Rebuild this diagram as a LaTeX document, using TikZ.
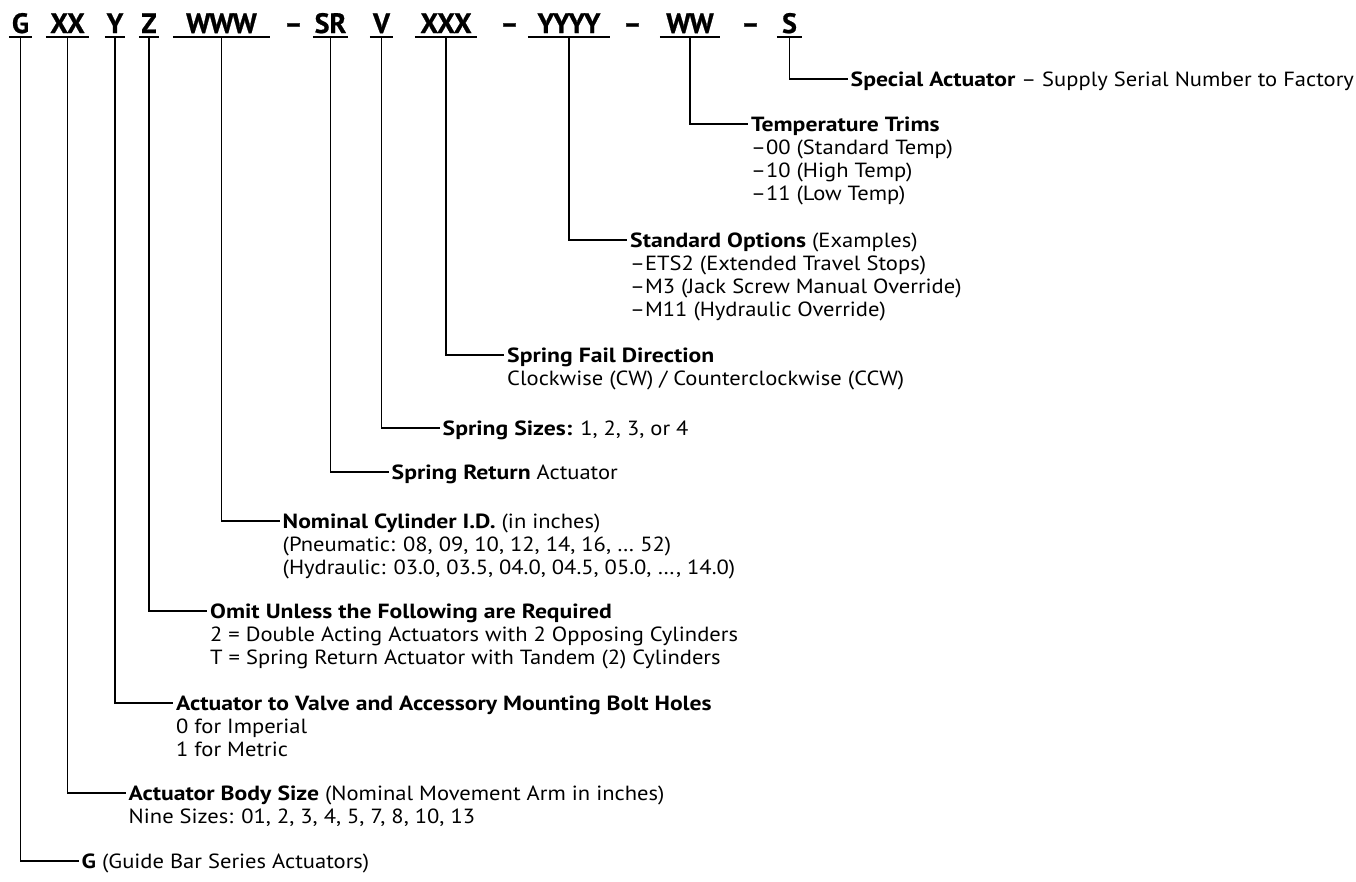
\documentclass[tikz,border=0pt]{standalone}
\usepackage{fontspec}
\setmainfont{PT Sans}[FakeStretch=1.10, BoldFeatures={FakeStretch=1.155}]
\newfontfamily\hdfont{PT Sans}[BoldFeatures={FakeBold=0.8}]
\newcommand\lns[1]{\begin{tabular}[t]{@{}l@{}}#1\end{tabular}}
\begin{document}
\begin{tikzpicture}[x=1pt,y=-1pt,
  hd/.style={font=\hdfont\fontsize{28}{30}\selectfont\bfseries, anchor=base, inner xsep=0pt, inner ysep=4pt, text depth=0pt},
  lab/.style={font=\fontsize{20.5}{23}\selectfont, anchor=base west, inner xsep=3pt, inner ysep=0pt},
  ln/.style={line width=1.6pt}
]
\fill[white] (0,0) rectangle (1356,881);
\useasboundingbox (0,0) rectangle (1356,881);

% header code
\node[hd, minimum width=23pt] (hG) at (20.5,33) {G};
\node[hd, minimum width=43pt] (hXX) at (67.5,33) {XX};
\node[hd, minimum width=20pt] (hY) at (115,33) {Y};
\node[hd, minimum width=20pt] (hZ) at (149,33) {Z};
\node[hd, minimum width=97pt] (hWWW) at (221.5,33) {WWW};
\node[hd] (d1) at (293.5,33) {–};
\node[hd, minimum width=35pt] (hSR) at (330.5,33) {SR};
\node[hd, minimum width=23pt] (hV) at (381.5,33) {V};
\node[hd, minimum width=62pt] (hXXX) at (446,33) {XXX};
\node[hd] (d2) at (509.5,33) {–};
\node[hd, minimum width=82pt] (hYYYY) at (569,33) {YYYY};
\node[hd] (d3) at (632.5,33) {–};
\node[hd, minimum width=60pt] (hWW) at (690,33) {WW};
\node[hd] (d4) at (750.5,33) {–};
\node[hd, minimum width=25pt] (hS) at (789.5,33) {S};

\foreach \n in {hG,hXX,hY,hZ,hWWW,hSR,hV,hXXX,hYYYY,hWW,hS}
  \draw[ln] (\n.south west) -- (\n.south east);

% labels
\node[lab] (lS) at (847.5,86) {\textbf{Special Actuator} – Supply Serial Number to Factory};
\node[lab] (lWW) at (748,131) {\lns{\textbf{Temperature Trims}\\–00 (Standard Temp)\\–10 (High Temp)\\–11 (Low Temp)}};
\node[lab] (lYYYY) at (627,247) {\lns{\textbf{Standard Options} (Examples)\\–ETS2 (Extended Travel Stops)\\–M3 (Jack Screw Manual Override)\\–M11 (Hydraulic Override)}};
\node[lab] (lXXX) at (504,362) {\lns{\textbf{Spring Fail Direction}\\Clockwise (CW) / Counterclockwise (CCW)}};
\node[lab] (lV) at (439.5,435) {\textbf{Spring Sizes:} 1, 2, 3, or 4};
\node[lab] (lSR) at (388.5,479) {\textbf{Spring Return} Actuator};
\node[lab] (lWWW) at (279.5,528) {\lns{\textbf{Nominal Cylinder I.D.} (in inches)\\(Pneumatic: 08, 09, 10, 12, 14, 16, … 52)\\(Hydraulic: 03.0, 03.5, 04.0, 04.5, 05.0, …, 14.0)}};
\node[lab] (lZ) at (207,618) {\lns{\textbf{Omit Unless the Following are Required}\\2 = Double Acting Actuators with 2 Opposing Cylinders\\T = Spring Return Actuator with Tandem (2) Cylinders}};
\node[lab] (lY) at (173,710) {\lns{\textbf{Actuator to Valve and Accessory Mounting Bolt Holes}\\0 for Imperial\\1 for Metric}};
\node[lab] (lXX) at (125.5,800) {\lns{\textbf{Actuator Body Size} (Nominal Movement Arm in inches)\\Nine Sizes: 01, 2, 3, 4, 5, 7, 8, 10, 13}};
\node[lab] (lG) at (78.5,868) {\textbf{G} (Guide Bar Series Actuators)};

% connectors
\foreach \h/\l in {hS/lS,hWW/lWW,hYYYY/lYYYY,hXXX/lXXX,hV/lV,hSR/lSR,hWWW/lWWW,hZ/lZ,hY/lY,hXX/lXX,hG/lG}
  \draw[ln] (\h.south) |- ([yshift=7pt]\l.base west);
\end{tikzpicture}
\end{document}
